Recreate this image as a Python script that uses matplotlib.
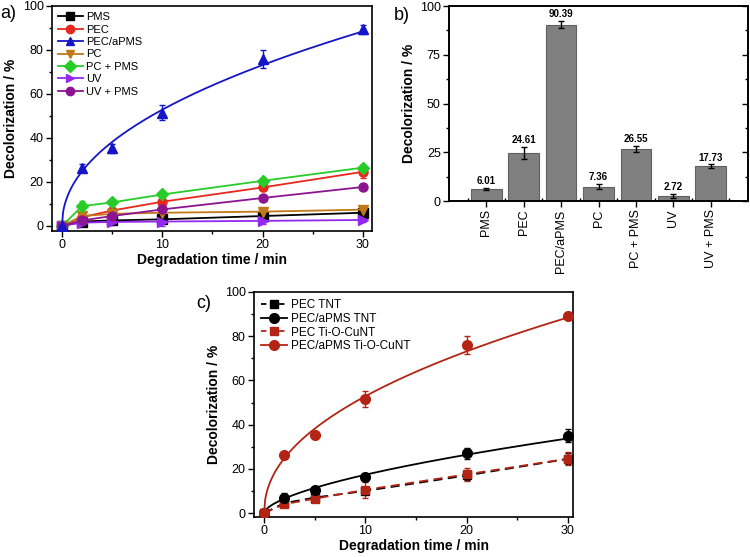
import numpy as np
import matplotlib
matplotlib.use("Agg")
import matplotlib.pyplot as plt
from matplotlib.ticker import MultipleLocator
from matplotlib.lines import Line2D

plt.rcParams['font.family'] = ['Liberation Sans', 'DejaVu Sans']
plt.rcParams['axes.linewidth'] = 1.2

# time points (min)
t = [0, 2, 5, 10, 20, 30]

# panel a
pms = [0, 2.0, 2.5, 3.0, 4.5, 6.0]
pms_err = [0.5, 0.5, 0.5, 0.5, 0.5, 0.5]
pec = [0, 4.0, 7.0, 11.0, 17.5, 24.6]
pec_err = [0.8, 1.0, 1.0, 1.2, 1.5, 3.0]
pec_apms = [0, 26.3, 35.3, 51.5, 76.0, 89.3]
pec_apms_err = [0.5, 2.0, 2.0, 3.5, 4.2, 2.0]
pc = [0, 4.5, 5.5, 6.0, 6.5, 7.4]
pc_err = [0.5, 0.8, 0.8, 0.8, 1.0, 1.0]
pc_pms = [0, 9.0, 10.7, 14.3, 20.5, 26.5]
pc_pms_err = [0.5, 2.5, 1.2, 1.2, 1.2, 1.2]
uv = [0, 1.5, 1.8, 2.0, 2.3, 2.7]
uv_err = [0.5, 0.8, 1.5, 2.0, 1.5, 1.0]
uv_pms = [0, 2.5, 4.5, 7.5, 12.7, 17.7]
uv_pms_err = [0.5, 0.8, 1.0, 1.5, 1.5, 1.2]

# panel b
bar_names = ["PMS", "PEC", "PEC/aPMS", "PC", "PC + PMS", "UV", "UV + PMS"]
bar_vals = [6.01, 24.61, 90.39, 7.36, 26.55, 2.72, 17.73]
bar_err = [0.5, 3.0, 1.8, 1.2, 1.5, 1.0, 1.0]

# panel c
tnt_pec = [0, 4.5, 7.0, 10.0, 17.0, 24.5]
tnt_pec_err = [0.5, 1.0, 1.0, 1.2, 2.0, 2.5]
tnt_apms = [0, 7.0, 10.5, 16.5, 27.0, 35.0]
tnt_apms_err = [0.5, 2.0, 1.5, 1.2, 2.5, 3.0]
cu_pec = [0, 4.0, 6.5, 10.5, 17.5, 24.6]
cu_pec_err = [0.5, 1.0, 1.5, 3.5, 3.0, 3.0]
cu_apms = [0, 26.3, 35.3, 51.5, 76.0, 89.3]
cu_apms_err = [0.5, 1.0, 1.0, 3.5, 4.2, 1.0]


def power_fit(x, y):
    # fit y = a * x^n through the non-zero points, curve through origin
    x = np.array(x[1:], dtype=float)
    y = np.array(y[1:], dtype=float)
    n, loga = np.polyfit(np.log(x), np.log(y), 1)
    xs = np.linspace(0, 30, 300)
    return xs, np.exp(loga) * xs ** n


def style_axis(ax):
    ax.tick_params(which='major', direction='out', length=4, width=1, labelsize=9, pad=2)
    ax.tick_params(which='minor', direction='out', length=2.5, width=1)


fig = plt.figure(figsize=(7.5, 5.57), dpi=100)

# ---------------- a ----------------
ax1 = fig.add_axes([0.0693, 0.5853, 0.4267, 0.4040])
series_a = [
    (pms, pms_err, 'PMS', 's', '#000000'),
    (pec, pec_err, 'PEC', 'o', '#e8281c'),
    (pec_apms, pec_apms_err, 'PEC/aPMS', '^', '#1414c8'),
    (pc, pc_err, 'PC', 'v', '#c07818'),
    (pc_pms, pc_pms_err, 'PC + PMS', 'D', '#28cc28'),
    (uv, uv_err, 'UV', '>', '#9428f0'),
    (uv_pms, uv_pms_err, 'UV + PMS', 'o', '#8c1490'),
]
handles_a = []
for y, e, name, m, c in series_a:
    if name == 'PEC/aPMS':
        xs, ys = power_fit(t, y)
        ax1.plot(xs, ys, color=c, lw=1.3, zorder=3)
        ax1.errorbar(t, y, yerr=e, fmt=m, color=c, ms=6.5, capsize=2.5,
                     elinewidth=1, zorder=4)
    else:
        ax1.errorbar(t, y, yerr=e, fmt='-' + m, color=c, ms=6.5, lw=1.3,
                     capsize=2.5, elinewidth=1)
    handles_a.append(Line2D([], [], marker=m, color=c, ms=6, lw=1.3, label=name))
ax1.set_xlim(-1, 30.9)
ax1.set_ylim(-2.3, 100)
ax1.xaxis.set_major_locator(MultipleLocator(10))
ax1.xaxis.set_minor_locator(MultipleLocator(5))
ax1.yaxis.set_major_locator(MultipleLocator(20))
ax1.yaxis.set_minor_locator(MultipleLocator(10))
style_axis(ax1)
ax1.set_xlabel('Degradation time / min', fontsize=10, fontweight='bold', labelpad=1)
ax1.set_ylabel('Decolorization / %', fontsize=10, fontweight='bold', labelpad=3)
ax1.legend(handles=handles_a, loc='upper left', frameon=False, fontsize=8,
           handlelength=2.2, handletextpad=0.3, labelspacing=0.22,
           borderaxespad=0.15)
fig.text(0.0, 0.975, 'a)', fontsize=13, va='center')

# ---------------- b ----------------
ax2 = fig.add_axes([0.5987, 0.6391, 0.3987, 0.3501])
xb = np.arange(len(bar_names))
ax2.bar(xb, bar_vals, width=0.82, color='#808080', edgecolor='#606060',
        linewidth=0.8, yerr=bar_err, capsize=2.5,
        error_kw=dict(elinewidth=1, ecolor='black', capthick=1))
for xi, v, e in zip(xb, bar_vals, bar_err):
    ax2.text(xi, v + e + 1, '%.2f' % v, ha='center', va='bottom', fontsize=7,
             fontweight='bold')
ax2.set_xlim(-1, 7)
ax2.set_ylim(0, 100)
ax2.set_xticks(xb)
ax2.set_xticklabels(bar_names, rotation=90, fontsize=9)
ax2.set_xticks(np.arange(-0.5, 7, 1), minor=True)
ax2.yaxis.set_major_locator(MultipleLocator(25))
ax2.yaxis.set_minor_locator(MultipleLocator(12.5))
style_axis(ax2)
ax2.tick_params(axis='x', which='minor', direction='in', length=2.5)
ax2.set_ylabel('Decolorization / %', fontsize=10, fontweight='bold', labelpad=3)
# inward mirror ticks on the right side
ax2r = ax2.twinx()
ax2r.set_ylim(0, 100)
ax2r.yaxis.set_major_locator(MultipleLocator(25))
ax2r.yaxis.set_minor_locator(MultipleLocator(12.5))
ax2r.tick_params(which='major', direction='in', length=4, width=1, labelright=False)
ax2r.tick_params(which='minor', direction='in', length=2.5, width=1)
fig.text(0.525, 0.972, 'b)', fontsize=13, va='center')

# ---------------- c ----------------
ax3 = fig.add_axes([0.3387, 0.0718, 0.4253, 0.4040])
black = '#000000'
red = '#b42414'
ax3.errorbar(t, tnt_pec, yerr=tnt_pec_err, fmt='--s', color=black, ms=6,
             lw=1.3, capsize=2.5, elinewidth=1, dashes=(5, 3))
xs, ys = power_fit(t, tnt_apms)
ax3.plot(xs, ys, color=black, lw=1.3, zorder=3)
ax3.errorbar(t, tnt_apms, yerr=tnt_apms_err, fmt='o', color=black, ms=7,
             capsize=2.5, elinewidth=1, zorder=4)
ax3.errorbar(t, cu_pec, yerr=cu_pec_err, fmt='--s', color=red, ms=6,
             lw=1.3, capsize=2.5, elinewidth=1, dashes=(5, 3))
xs, ys = power_fit(t, cu_apms)
ax3.plot(xs, ys, color=red, lw=1.3, zorder=3)
ax3.errorbar(t, cu_apms, yerr=cu_apms_err, fmt='o', color=red, ms=7,
             capsize=2.5, elinewidth=1, zorder=4)
handles_c = [
    Line2D([], [], ls='--', dashes=(3, 2), marker='s', color=black, ms=6, lw=1.3, label='PEC TNT'),
    Line2D([], [], marker='o', color=black, ms=7, lw=1.3, label='PEC/aPMS TNT'),
    Line2D([], [], ls='--', dashes=(3, 2), marker='s', color=red, ms=6, lw=1.3, label='PEC Ti-O-CuNT'),
    Line2D([], [], marker='o', color=red, ms=7, lw=1.3, label='PEC/aPMS Ti-O-CuNT'),
]
ax3.set_xlim(-1, 30.5)
ax3.set_ylim(-1.8, 100)
ax3.xaxis.set_major_locator(MultipleLocator(10))
ax3.xaxis.set_minor_locator(MultipleLocator(5))
ax3.yaxis.set_major_locator(MultipleLocator(20))
ax3.yaxis.set_minor_locator(MultipleLocator(10))
style_axis(ax3)
ax3.set_xlabel('Degradation time / min', fontsize=10, fontweight='bold', labelpad=1)
ax3.set_ylabel('Decolorization / %', fontsize=10, fontweight='bold', labelpad=3)
ax3.legend(handles=handles_c, loc='upper left', frameon=False, fontsize=8.5,
           handlelength=2.2, handletextpad=0.3, labelspacing=0.15,
           borderaxespad=0.2)
fig.text(0.262, 0.455, 'c)', fontsize=13, va='center')

fig.savefig('out.png', dpi=100)
